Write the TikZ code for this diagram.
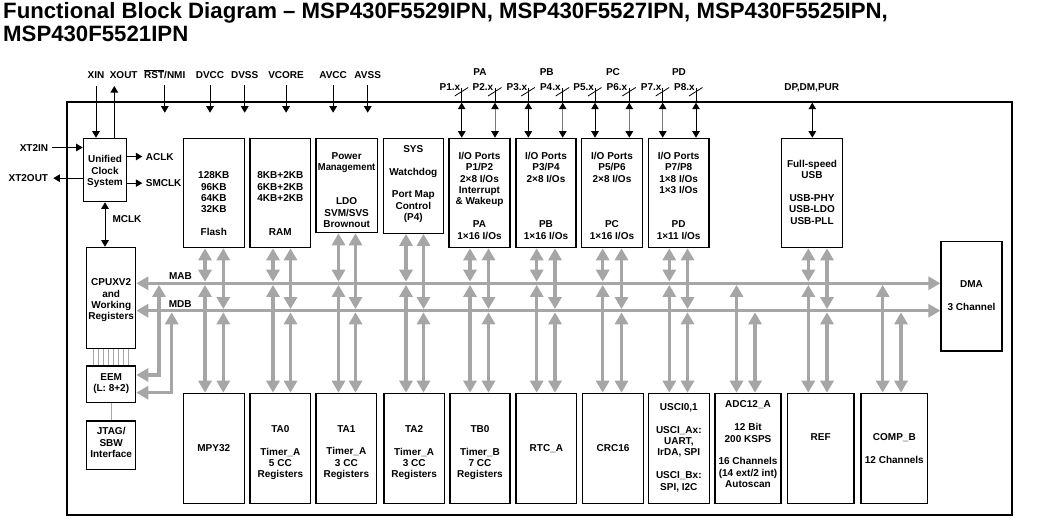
\documentclass[tikz,border=0pt]{standalone}
\usepackage{fontspec}
\usepackage{graphicx}
\setmainfont{Liberation Sans}
\usetikzlibrary{arrows.meta}
\definecolor{busgray}{RGB}{166,166,166}
\definecolor{lngray}{RGB}{120,120,120}
\begin{document}
\begin{tikzpicture}[x=1pt,y=-1pt,
  font=\fontsize{10}{11.4}\selectfont\bfseries,
  blk/.style={draw, line width=1.2pt, inner sep=0},
  txt/.style={inner sep=0, align=center, anchor=north, execute at begin node={\rule{0pt}{7.5pt}}},
  lbl/.style={inner sep=0},
  bar/.style={draw=black, line width=1pt, -{Triangle[length=6.5pt,width=7.5pt]}},
  dbar/.style={draw=black, line width=1pt, {Triangle[length=6.5pt,width=7.5pt,color=black]}-{Triangle[length=6.5pt,width=7.5pt,color=black]}},
  gar/.style={draw=busgray, line width=3.2pt, {Triangle[length=12pt,width=13pt]}-{Triangle[length=12pt,width=13pt]}},
  thinl/.style={draw=busgray, line width=0.8pt}]
\useasboundingbox (0,0) rectangle (1041,530);
% title
\node[inner sep=0, anchor=north west, align=left, font=\fontsize{22.2}{23.5}\selectfont\bfseries,
  execute at begin node={\rule{0pt}{16.5pt}}] (title) at (3,2)
  {Functional Block Diagram – MSP430F5529IPN, MSP430F5527IPN, MSP430F5525IPN,\\MSP430F5521IPN};
% frame
\node[draw, line width=2pt, inner sep=0, minimum width=945pt, minimum height=413.3pt] (frame) at (539.5,308.35) {};
% blocks top
\node[blk, minimum width=43.4pt, minimum height=63.4pt] (clock) at (105,170) {};
\node[blk, minimum width=61pt, minimum height=109.4pt] (flash) at (213.8,193) {};
\node[blk, minimum width=60.7pt, minimum height=109.4pt] (ram) at (280.35,193) {};
\node[blk, minimum width=61.3pt, minimum height=94.4pt] (pwr) at (346.65,185.5) {};
\node[blk, minimum width=60pt, minimum height=95pt] (sys) at (413.3,185.8) {};
\node[blk, minimum width=61pt, minimum height=109.4pt] (pa) at (479.5,193) {};
\node[blk, minimum width=60pt, minimum height=109.4pt] (pb) at (546,193) {};
\node[blk, minimum width=60.6pt, minimum height=109.4pt] (pc) at (612,193) {};
\node[blk, minimum width=60.7pt, minimum height=109.4pt] (pd) at (678.65,193) {};
\node[blk, minimum width=60.6pt, minimum height=109.4pt] (usb) at (812,193) {};
\node[blk, minimum width=61pt, minimum height=109.3pt] (dma) at (971.5,296.35) {};
\node[blk, minimum width=49pt, minimum height=101pt] (cpu) at (111.2,297.8) {};
\node[blk, minimum width=49pt, minimum height=36.7pt] (eem) at (111.2,384.35) {};
\node[blk, minimum width=49pt, minimum height=48.3pt] (jtag) at (111.2,445.15) {};
% blocks bottom
\node[blk, minimum width=61pt, minimum height=110.2pt] (mpy) at (213.8,448.4) {};
\node[blk, minimum width=60.7pt, minimum height=110.2pt] (ta0) at (280.35,448.4) {};
\node[blk, minimum width=60.7pt, minimum height=110.2pt] (ta1) at (346.35,448.4) {};
\node[blk, minimum width=60.3pt, minimum height=110.2pt] (ta2) at (414.15,448.4) {};
\node[blk, minimum width=60pt, minimum height=110.2pt] (tb0) at (480,448.4) {};
\node[blk, minimum width=60.7pt, minimum height=110.2pt] (rtc) at (546.35,448.4) {};
\node[blk, minimum width=60.6pt, minimum height=110.2pt] (crc) at (613,448.4) {};
\node[blk, minimum width=61pt, minimum height=110.2pt] (usci) at (678.8,448.4) {};
\node[blk, minimum width=66pt, minimum height=110.2pt] (adc) at (748,448.4) {};
\node[blk, minimum width=66.7pt, minimum height=110.2pt] (ref) at (820.65,448.4) {};
\node[blk, minimum width=66.7pt, minimum height=110.2pt] (comp) at (894.35,448.4) {};
% block texts
\node[txt] (clockt) at (105,155.2) {Unified\\Clock\\System};
\node[txt] (flasht) at (213.8,171.5) {128KB\\96KB\\64KB\\32KB\\[11.4pt]Flash};
\node[txt] (ramt) at (280.35,171.5) {8KB+2KB\\6KB+2KB\\4KB+2KB\\[22.8pt]RAM};
\node[txt] (pwrt) at (346.65,152) {Power\\\scalebox{0.94}[1]{Management}\\[22.8pt]LDO\\SVM/SVS\\Brownout};
\node[txt] (syst) at (413.3,145.2) {SYS\\[11.4pt]Watchdog\\[11.4pt]Port Map\\Control\\(P4)};
\node[txt] (pat) at (479.5,151.8) {I/O Ports\\P1/P2\\2×8 I/Os\\Interrupt\\\& Wakeup\\[11.4pt]PA\\1×16 I/Os};
\node[txt] (pbt) at (546,151.8) {I/O Ports\\P3/P4\\2×8 I/Os\\[34.2pt]PB\\1×16 I/Os};
\node[txt] (pct) at (612,151.8) {I/O Ports\\P5/P6\\2×8 I/Os\\[34.2pt]PC\\1×16 I/Os};
\node[txt] (pdt) at (678.65,151.8) {I/O Ports\\P7/P8\\1×8 I/Os\\1×3 I/Os\\[22.8pt]PD\\1×11 I/Os};
\node[txt] (usbt) at (812,159.8) {Full-speed\\USB\\[11.4pt]USB-PHY\\USB-LDO\\USB-PLL};
\node[txt] (dmat) at (971.5,280.2) {DMA\\[11.4pt]3 Channel};
\node[txt] (cput) at (111.2,278.5) {CPUXV2\\and\\Working\\Registers};
\node[txt] (eemt) at (111.2,373.2) {EEM\\(L: 8+2)};
\node[txt] (jtagt) at (111.2,427.5) {JTAG/\\SBW\\Interface};
\node[txt] (mpyt) at (213.8,444.1) {MPY32};
\node[txt] (ta0t) at (280.35,425.1) {TA0\\[11.4pt]Timer\_A\\5 CC\\Registers};
\node[txt] (ta1t) at (346.35,425.1) {TA1\\[11.4pt]Timer\_A\\3 CC\\Registers};
\node[txt] (ta2t) at (414.15,425.1) {TA2\\[11.4pt]Timer\_A\\3 CC\\Registers};
\node[txt] (tb0t) at (480,425.1) {TB0\\[11.4pt]Timer\_B\\7 CC\\Registers};
\node[txt] (rtct) at (546.35,444.1) {RTC\_A};
\node[txt] (crct) at (613,444.1) {CRC16};
\node[txt] (uscit) at (678.8,403.2) {USCI0,1\\[11.4pt]USCI\_Ax:\\UART,\\IrDA, SPI\\[11.4pt]USCI\_Bx:\\SPI, I2C};
\node[txt] (adct) at (748,400.8) {ADC12\_A\\[11.4pt]12 Bit\\200 KSPS\\[11.4pt]16 Channels\\(14 ext/2 int)\\Autoscan};
\node[txt] (reft) at (820.65,433.1) {REF};
\node[txt] (compt) at (894.35,433.1) {COMP\_B\\[11.4pt]12 Channels};
% pin labels
\node[lbl, anchor=base] (xin) at (96,78.3) {XIN};
\node[lbl, anchor=base] (xout) at (123.7,78.3) {XOUT};
\node[lbl, anchor=base] (rst) at (164.8,78.3) {\ensuremath{\overline{\mbox{RST}}}/NMI};
\node[lbl, anchor=base] (dvcc) at (210,78.3) {DVCC};
\node[lbl, anchor=base] (dvss) at (244.7,78.3) {DVSS};
\node[lbl, anchor=base] (vcore) at (286.1,78.3) {VCORE};
\node[lbl, anchor=base] (avcc) at (333.1,78.3) {AVCC};
\node[lbl, anchor=base] (avss) at (367.7,78.3) {AVSS};
\node[lbl, anchor=base east] (xt2in) at (48.3,151) {XT2IN};
\node[lbl, anchor=base east] (xt2out) at (48.3,181.6) {XT2OUT};
\node[lbl, anchor=base west] (aclk) at (145.7,160) {ACLK};
\node[lbl, anchor=base west] (smclk) at (145.7,186.6) {SMCLK};
\node[lbl, anchor=base west] (mclk) at (112.3,222.6) {MCLK};
\node[lbl, anchor=base] (mab) at (180.5,279.3) {MAB};
\node[lbl, anchor=base] (mdb) at (180.3,307) {MDB};
\node[lbl, anchor=base] (dp) at (811.7,90) {DP,DM,PUR};
\node[lbl, anchor=base] (plA) at (480,75) {PA};
\node[lbl, anchor=base] (plB) at (546.7,75) {PB};
\node[lbl, anchor=base] (plC) at (613,75) {PC};
\node[lbl, anchor=base] (plD) at (679,75) {PD};
\foreach \n/\x in {1/450,2/483,3/517,4/550.3,5/583.7,6/617,7/651.2,8/684.5}
  \node[lbl, anchor=base] (pl\n) at (\x,90) {P\n.x};
% clock pins
\draw[bar] ([yshift=-7.7pt]xin.base) -- (xin.base |- clock.north);
\coordinate (xoutc) at (114.3,86);
\draw[bar] (xoutc |- clock.north) -- (xoutc);
\coordinate (pinend) at (0,112.7);
\foreach \p in {rst,dvcc,dvss,vcore,avcc,avss}
  \draw[bar] ([yshift=-6.7pt]\p.base) -- (\p.base |- pinend);
\draw[bar, shorten <=3.4pt] (xt2in.east) -- (xt2in.east -| clock.west);
\draw[bar, shorten >=5pt] (xt2out.east -| clock.west) -- (xt2out.east);
\draw[bar, shorten >=3.4pt] (aclk.west -| clock.east) -- (aclk.west);
\draw[bar, shorten >=3.4pt] (smclk.west -| clock.east) -- (smclk.west);
\draw[dbar] (clock.south) -- (clock.south |- cpu.north);
% ports
\foreach \n/\x/\lc/\b in {1/461.7/black/pa,2/495/lngray/pa,3/528.3/black/pb,4/562.7/lngray/pb,5/595/black/pc,6/629.3/lngray/pc,7/662.7/lngray/pd,8/696/black/pd}{
  \coordinate (pp\n) at (\x,102.7);
  \draw[dbar, draw=\lc] (pp\n) -- (pp\n |- \b.north);
  \draw[line width=0.8pt] ([yshift=14.7pt]pp\n) -- ([yshift=1pt]pp\n);
  \draw[line width=0.8pt] ([shift={(-7pt,6.7pt)}]pp\n) -- ([shift={(6.5pt,15.2pt)}]pp\n);
}
\coordinate (dpc) at (812.3,102.7);
\draw[dbar] (dpc) -- (dpc |- usb.north);
% buses
\coordinate (busA) at (0,283.3);
\coordinate (busD) at (0,310.7);
\coordinate (mabt) at (0,281.7);
\coordinate (mabb) at (0,284.9);
\coordinate (mdbt) at (0,309.1);
\coordinate (mdbb) at (0,312.3);
\draw[gar] (cpu.east |- busA) -- (dma.west |- busA);
\draw[gar] (cpu.east |- busD) -- (dma.west |- busD);
\foreach \t/\b/\l/\r in {flash/mpy/205/223.3, ram/ta0/273/290.5, pwr/ta1/338.5/355.5, sys/ta2/406/423.5, pa/tb0/470/488.5, pb/rtc/536.7/555, pc/crc/602.7/621.5, pd/usci/669.3/687.5}{
  \coordinate (cl) at (\l,0);
  \coordinate (cr) at (\r,0);
  \draw[gar] (cl |- \t.south) -- (cl |- mabt);
  \draw[gar] (cr |- \t.south) -- (cr |- mdbt);
  \draw[gar] (cl |- mabb) -- (cl |- \b.north);
  \draw[gar] (cr |- mdbb) -- (cr |- \b.north);
}
\foreach \b/\l/\r in {adc/736.5/755, ref/808.3/827, comp/882.7/901}{
  \coordinate (cl) at (\l,0);
  \coordinate (cr) at (\r,0);
  \draw[gar] (cl |- mabb) -- (cl |- \b.north);
  \draw[gar] (cr |- mdbb) -- (cr |- \b.north);
}
\coordinate (ul) at (808.3,0);
\coordinate (ur) at (827,0);
\draw[gar] (ul |- usb.south) -- (ul |- mabt);
\draw[gar] (ur |- usb.south) -- (ur |- mdbt);
% EEM
\coordinate (e1) at (159,0);
\coordinate (e2) at (171.7,0);
\draw[gar] (e1 |- mabb) |- ([yshift=9.35pt]eem.east);
\draw[gar] (e2 |- mdbb) |- ([yshift=-8.35pt]eem.east);
\foreach \dx in {-17.5,-12.5,-7.5,-2.5,2.5,7.5,12.5,17.5}
  \draw[thinl] ([xshift=\dx pt]cpu.south) -- ([xshift=\dx pt]eem.north);
\draw[thinl] (eem.south) -- (jtag.north);
\end{tikzpicture}
\end{document}
